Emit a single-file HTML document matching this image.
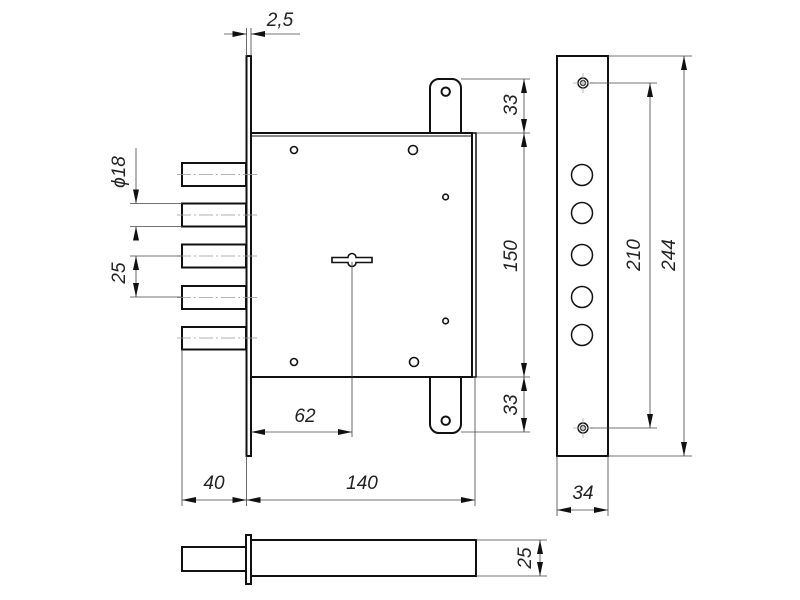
<!DOCTYPE html>
<html><head><style>
html,body{margin:0;padding:0;background:#fff;width:800px;height:600px;overflow:hidden}
svg text{font-family:"Liberation Sans",sans-serif;font-style:italic;font-size:19px;fill:#222}
</style></head><body>
<svg width="800" height="600" viewBox="0 0 800 600" xmlns="http://www.w3.org/2000/svg">
<defs>
<marker id="a" viewBox="0 0 14 6" refX="14" refY="3" markerWidth="14" markerHeight="6" orient="auto-start-reverse" markerUnits="userSpaceOnUse">
<path d="M0,0 L14,3 L0,6 Z" fill="#111"/></marker>
</defs>
<g fill="none" stroke="#111" stroke-width="2">
<!-- faceplate -->
<rect x="246.5" y="56" width="4.5" height="400"/>
<!-- body -->
<rect x="251" y="133" width="221" height="244"/>
<polyline points="251,136 472,136" stroke-width="1"/>
<polyline points="472,133 476,133 476,377 472,377" stroke-width="1.5"/>
<!-- tabs -->
<path d="M430,133 V88 A9,9 0 0 1 439,79 H452 A9,9 0 0 1 461,88 V133"/>
<path d="M430,377 V424 A9,9 0 0 0 439,433 H452 A9,9 0 0 0 461,424 V377"/>
<circle cx="445.7" cy="91.7" r="4.2"/>
<circle cx="445.7" cy="420.7" r="4.2"/>
<!-- holes -->
<circle cx="294" cy="150" r="3.5" stroke-width="1.6"/>
<circle cx="413" cy="150" r="4.5" stroke-width="1.6"/>
<circle cx="445.6" cy="197" r="2.8" stroke-width="1.6"/>
<circle cx="445.6" cy="321" r="2.8" stroke-width="1.6"/>
<circle cx="294" cy="362" r="3.5" stroke-width="1.6"/>
<circle cx="414" cy="362" r="4.5" stroke-width="1.6"/>
<!-- bolts -->
<rect x="182" y="163" width="64" height="23"/>
<rect x="182" y="203.5" width="64" height="23"/>
<rect x="182" y="244.5" width="64" height="23"/>
<rect x="182" y="286" width="64" height="23"/>
<rect x="182" y="327" width="64" height="22.5"/>
<!-- keyhole -->
<path d="M332,257.5 H348 A4,4 0 0 1 356,257.5 H372 V262.5 H356 A4,4 0 0 1 348,262.5 H332 Z" stroke-width="1.6"/>
<!-- bottom view -->
<rect x="182" y="547" width="64" height="24"/>
<rect x="246" y="535" width="5" height="49"/>
<rect x="251" y="540" width="225" height="36"/>
<!-- strike plate -->
<rect x="557" y="56" width="51" height="400"/>
<circle cx="583" cy="83" r="5" stroke-width="1.4"/><circle cx="583" cy="83" r="2.5" stroke-width="1.2"/>
<circle cx="583" cy="428" r="5" stroke-width="1.4"/><circle cx="583" cy="428" r="2.5" stroke-width="1.2"/>
<circle cx="582" cy="175" r="10.5" stroke-width="1.5"/>
<circle cx="582" cy="213" r="10.5" stroke-width="1.5"/>
<circle cx="582" cy="255" r="10.5" stroke-width="1.5"/>
<circle cx="582" cy="297" r="10.5" stroke-width="1.5"/>
<circle cx="582" cy="335" r="10.5" stroke-width="1.5"/>
</g>
<!-- centerlines -->
<g stroke="#999" stroke-width="0.8" stroke-dasharray="14,3,2,3">
<line x1="177" y1="174.5" x2="258" y2="174.5"/>
<line x1="177" y1="215" x2="258" y2="215"/>
<line x1="177" y1="256" x2="258" y2="256"/>
<line x1="177" y1="297.5" x2="258" y2="297.5"/>
<line x1="177" y1="338" x2="258" y2="338"/>
</g>
<g stroke="#aaa" stroke-width="0.8">
<line x1="573" y1="83" x2="593" y2="83"/><line x1="583" y1="73" x2="583" y2="93"/>
<line x1="573" y1="428" x2="593" y2="428"/><line x1="583" y1="418" x2="583" y2="438"/>
</g>
<!-- dimension lines -->
<g stroke="#444" stroke-width="0.8" fill="none">
<!-- 2,5 -->
<line x1="246.5" y1="28" x2="246.5" y2="56"/><line x1="251" y1="28" x2="251" y2="56"/>
<line x1="224" y1="34" x2="246.5" y2="34" marker-end="url(#a)"/>
<line x1="300" y1="34" x2="251" y2="34" marker-end="url(#a)"/>
<!-- phi18 -->
<line x1="130" y1="203.5" x2="182" y2="203.5"/><line x1="130" y1="226.5" x2="182" y2="226.5"/>
<line x1="136" y1="148" x2="136" y2="203.5" marker-end="url(#a)"/>
<line x1="136" y1="240" x2="136" y2="226.5" marker-end="url(#a)"/>
<!-- 25 -->
<line x1="130" y1="256" x2="182" y2="256"/><line x1="130" y1="297" x2="182" y2="297"/>
<line x1="136" y1="256" x2="136" y2="297" marker-start="url(#a)" marker-end="url(#a)"/>
<!-- right dims -->
<line x1="461" y1="79" x2="530" y2="79"/><line x1="476" y1="133" x2="530" y2="133"/>
<line x1="476" y1="377" x2="530" y2="377"/><line x1="461" y1="432" x2="530" y2="432"/>
<line x1="524" y1="79" x2="524" y2="133" marker-start="url(#a)" marker-end="url(#a)"/>
<line x1="524" y1="133" x2="524" y2="377" marker-start="url(#a)" marker-end="url(#a)"/>
<line x1="524" y1="377" x2="524" y2="432" marker-start="url(#a)" marker-end="url(#a)"/>
<!-- 62 -->
<line x1="352" y1="262" x2="352" y2="437"/>
<line x1="251" y1="432" x2="352" y2="432" marker-start="url(#a)" marker-end="url(#a)"/>
<!-- 40 / 140 -->
<line x1="182" y1="349" x2="182" y2="506"/><line x1="246.5" y1="456" x2="246.5" y2="506"/>
<line x1="475" y1="377" x2="475" y2="506"/>
<line x1="182" y1="500" x2="246.5" y2="500" marker-start="url(#a)" marker-end="url(#a)"/>
<line x1="246.5" y1="500" x2="475" y2="500" marker-start="url(#a)" marker-end="url(#a)"/>
<!-- bottom 25 -->
<line x1="476" y1="540" x2="547" y2="540"/><line x1="476" y1="576" x2="547" y2="576"/>
<line x1="540" y1="540" x2="540" y2="576" marker-start="url(#a)" marker-end="url(#a)"/>
<!-- strike dims -->
<line x1="590" y1="83" x2="657" y2="83"/><line x1="590" y1="428" x2="657" y2="428"/>
<line x1="650" y1="83" x2="650" y2="428" marker-start="url(#a)" marker-end="url(#a)"/>
<line x1="608" y1="56" x2="692" y2="56"/><line x1="608" y1="456" x2="692" y2="456"/>
<line x1="684" y1="56" x2="684" y2="456" marker-start="url(#a)" marker-end="url(#a)"/>
<line x1="557" y1="456" x2="557" y2="516"/><line x1="608" y1="456" x2="608" y2="516"/>
<line x1="557" y1="510" x2="608" y2="510" marker-start="url(#a)" marker-end="url(#a)"/>
</g>
<!-- texts -->
<text x="280" y="26" text-anchor="middle">2,5</text>
<text transform="translate(125,172) rotate(-90)" text-anchor="middle">ϕ18</text>
<text transform="translate(125,273) rotate(-90)" text-anchor="middle">25</text>
<text transform="translate(517,105) rotate(-90)" text-anchor="middle">33</text>
<text transform="translate(517,256) rotate(-90)" text-anchor="middle">150</text>
<text transform="translate(517,405) rotate(-90)" text-anchor="middle">33</text>
<text x="305" y="422" text-anchor="middle">62</text>
<text x="214" y="489" text-anchor="middle">40</text>
<text x="362" y="489" text-anchor="middle">140</text>
<text transform="translate(531,558) rotate(-90)" text-anchor="middle">25</text>
<text transform="translate(640,255) rotate(-90)" text-anchor="middle">210</text>
<text transform="translate(675,255) rotate(-90)" text-anchor="middle">244</text>
<text x="583" y="499" text-anchor="middle">34</text>
</svg>
</body></html>
